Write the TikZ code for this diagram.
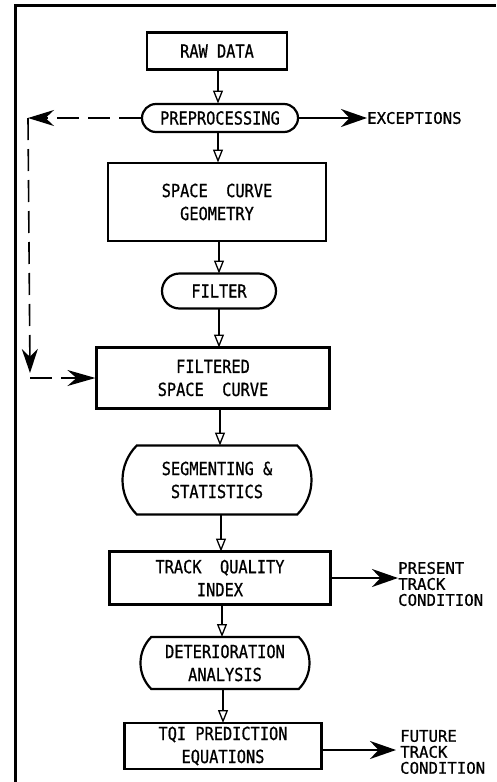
\documentclass[tikz,border=0pt]{standalone}
\usepackage{fontspec}
\newfontfamily\plotfont[FakeStretch=0.85, FakeBold=0.8]{DejaVu Sans Mono}
\newfontfamily\labelfont[FakeStretch=0.98, FakeBold=0.8]{DejaVu Sans Mono}
\usetikzlibrary{arrows.meta,positioning,calc,shapes.misc}

\begin{document}
\begin{tikzpicture}[x=1pt, y=-1pt,
    font=\plotfont\fontsize{18}{23}\selectfont,
    procbox/.style={draw, line width=2.2pt, align=center, inner sep=0pt},
    stadium/.style={draw, line width=2.2pt, rounded rectangle, align=center, inner sep=0pt},
    flatstadium/.style={stadium, rounded rectangle arc length=90},
    flow/.style={line width=1.6pt, -{Triangle[open, width=10pt, length=13pt, line width=1.3pt]}},
    outarrow/.style={line width=2pt, -{Stealth[width=18pt, length=26pt]}},
    fbline/.style={line width=1.6pt, dash pattern=on 22pt off 9pt},
    outlabel/.style={anchor=west, align=left, inner sep=0pt,
        font=\labelfont\fontsize{16}{16}\selectfont}]
    \useasboundingbox (0,0) rectangle (496,782);
    % frame
    \draw[line width=3pt] (15,782) -- (15,5) -- (496,5);

    % main chain
    \node[procbox, minimum width=140pt, minimum height=37pt] (raw) at (217,51) {RAW DATA};
    \node[stadium, minimum width=156pt, minimum height=28pt] (prep) at (220,118) {PREPROCESSING};
    \node[procbox, minimum width=218pt, minimum height=78pt] (geom) at (217,202) {SPACE~~CURVE\\GEOMETRY};
    \node[stadium, minimum width=114pt, minimum height=35pt] (filt) at (219,291) {FILTER};
    \node[procbox, minimum width=233pt, minimum height=61pt] (fsc) at (213,378) {FILTERED\\SPACE~~CURVE};
    \node[flatstadium, minimum width=189pt, minimum height=69pt] (seg) at (217,480) {SEGMENTING \&\\STATISTICS};
    \node[procbox, minimum width=221pt, minimum height=53pt] (tqi) at (220,578) {TRACK~~QUALITY\\INDEX};
    \node[flatstadium, minimum width=169pt, minimum height=52pt] (det) at (225,663) {DETERIORATION\\ANALYSIS};
    \node[procbox, minimum width=197pt, minimum height=46pt] (pred) at (223,746) {TQI PREDICTION\\EQUATIONS};

    \draw[flow] (218,69.5) -- (218,103.5);
    \draw[flow] (218,132.5) -- (218,162.5);
    \draw[flow] (219,241.5) -- (219,273.5);
    \draw[flow] (219,308.5) -- (219,347.5);
    \draw[flow] (220,408.5) -- (220,445.5);
    \draw[flow] (221,514.5) -- (221,551.5);
    \draw[flow] (222,604.5) -- (222,637);
    \draw[flow] (223,689) -- (223,723);

    % outputs on the right
    \node[outlabel] (exc) at (367,118) {EXCEPTIONS};
    \node[outlabel] (present) at (398,584) {PRESENT\\TRACK\\CONDITION};
    \node[outlabel] (future) at (400,752) {FUTURE\\TRACK\\CONDITION};
    \draw[outarrow] (prep.east) -- (exc.west);
    \draw[outarrow] (tqi.east) -- (tqi.east -| present.west);
    \draw[outarrow] (pred.east |- 0,750) -- (396,750);

    % dashed feedback on the left
    \coordinate (fbtop) at (28,118);
    \coordinate (fbdown) at (30,373);
    \coordinate (fbbot) at (30,378);
    \draw[fbline, -{Stealth[width=16pt, length=26pt]}] (prep.west) -- (fbtop);
    \draw[fbline, -{Stealth[width=16pt, length=24pt]}] (fbtop) -- (fbdown);
    \draw[fbline, -{Stealth[width=16pt, length=28pt]}] (fbbot) -- (fsc.west);
\end{tikzpicture}
\end{document}
